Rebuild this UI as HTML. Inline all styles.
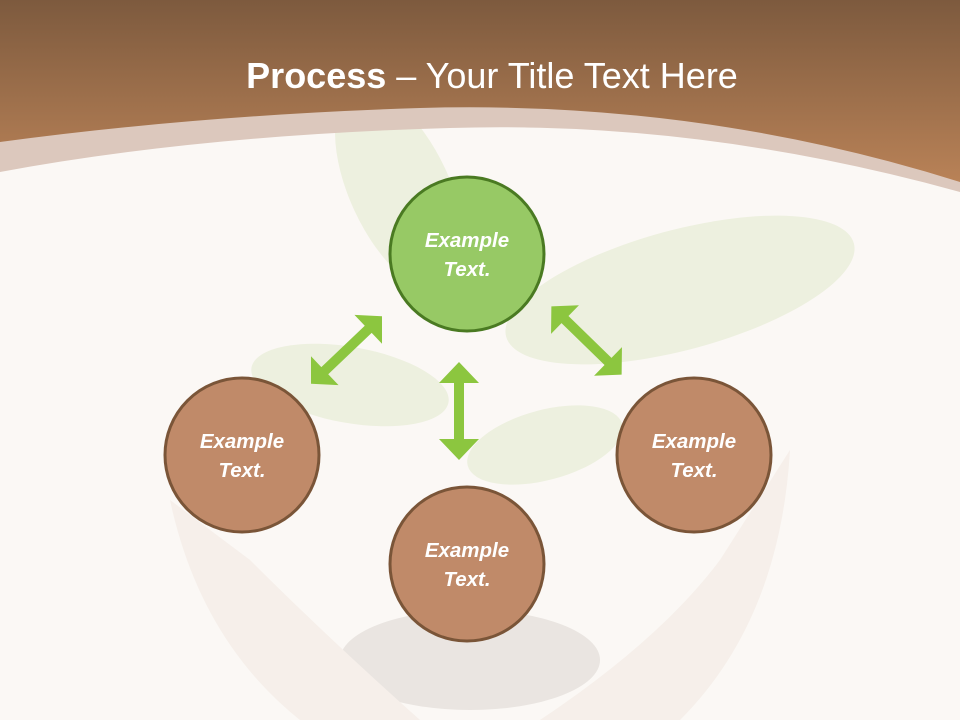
<!DOCTYPE html>
<html><head><meta charset="utf-8"><style>
html,body{margin:0;padding:0;width:960px;height:720px;overflow:hidden;background:#fbf8f5;font-family:"Liberation Sans",sans-serif}
</style></head><body>
<svg width="960" height="720" viewBox="0 0 960 720" xmlns="http://www.w3.org/2000/svg">
<defs>
<linearGradient id="hd" x1="0" y1="0" x2="0" y2="1">
<stop offset="0" stop-color="#7d5a3e"/><stop offset="1" stop-color="#b98257"/>
</linearGradient>
</defs>
<rect width="960" height="720" fill="#fbf8f5"/>
<g opacity="0.5">
<ellipse cx="400" cy="190" rx="50" ry="110" transform="rotate(-25 400 190)" fill="#dfe9c8"/>
<ellipse cx="680" cy="290" rx="180" ry="60" transform="rotate(-15 680 290)" fill="#dfe9c8"/>
<ellipse cx="350" cy="385" rx="100" ry="38" transform="rotate(10 350 385)" fill="#dfe9c8"/>
<ellipse cx="545" cy="445" rx="80" ry="35" transform="rotate(-15 545 445)" fill="#dfe9c8"/>
<ellipse cx="470" cy="660" rx="130" ry="50" fill="#d8d2cc"/>
<path d="M170 500 Q200 640 300 720 L420 720 Q330 640 250 560 Z" fill="#f0e6de"/>
<path d="M790 450 Q780 620 680 720 L540 720 Q660 640 720 560 Z" fill="#f0e6de"/>
</g>
<path d="M0 0 H960 V192 Q700 120 450 128 Q200 135 0 172 Z" fill="#dcc8bd"/>
<path d="M0 0 H960 V182 Q700 100 420 108 Q200 115 0 142 Z" fill="url(#hd)"/>
<text x="492" y="88" text-anchor="middle" fill="#fff" font-size="36" font-family="Liberation Sans, sans-serif"><tspan font-weight="bold">Process</tspan> – Your Title Text Here</text>
<g fill="#8cc63f">
<path d="M459 362 L479 383 L464 383 L464 439 L479 439 L459 460 L439 439 L454 439 L454 383 L439 383 Z"/>
<g transform="translate(346.5 350) rotate(-43.6)">
<path d="M-49 0 L-30 -20 L-30 -5 L30 -5 L30 -20 L49 0 L30 20 L30 5 L-30 5 L-30 20 Z"/>
</g>
<g transform="translate(586.5 340.5) rotate(44.2)">
<path d="M-49 0 L-30 -20 L-30 -5 L30 -5 L30 -20 L49 0 L30 20 L30 5 L-30 5 L-30 20 Z"/>
</g>
</g>
<g font-family="Liberation Sans, sans-serif" font-size="20.5" font-weight="bold" font-style="italic" fill="#fff" text-anchor="middle">
<circle cx="467" cy="254" r="77" fill="#97c965" stroke="#4a7a22" stroke-width="3"/>
<text x="467" y="247">Example</text><text x="467" y="276">Text.</text>
<circle cx="242" cy="455" r="77" fill="#c08a69" stroke="#7a5538" stroke-width="3"/>
<text x="242" y="448">Example</text><text x="242" y="477">Text.</text>
<circle cx="694" cy="455" r="77" fill="#c08a69" stroke="#7a5538" stroke-width="3"/>
<text x="694" y="448">Example</text><text x="694" y="477">Text.</text>
<circle cx="467" cy="564" r="77" fill="#c08a69" stroke="#7a5538" stroke-width="3"/>
<text x="467" y="557">Example</text><text x="467" y="586">Text.</text>
</g>
</svg>
</body></html>
